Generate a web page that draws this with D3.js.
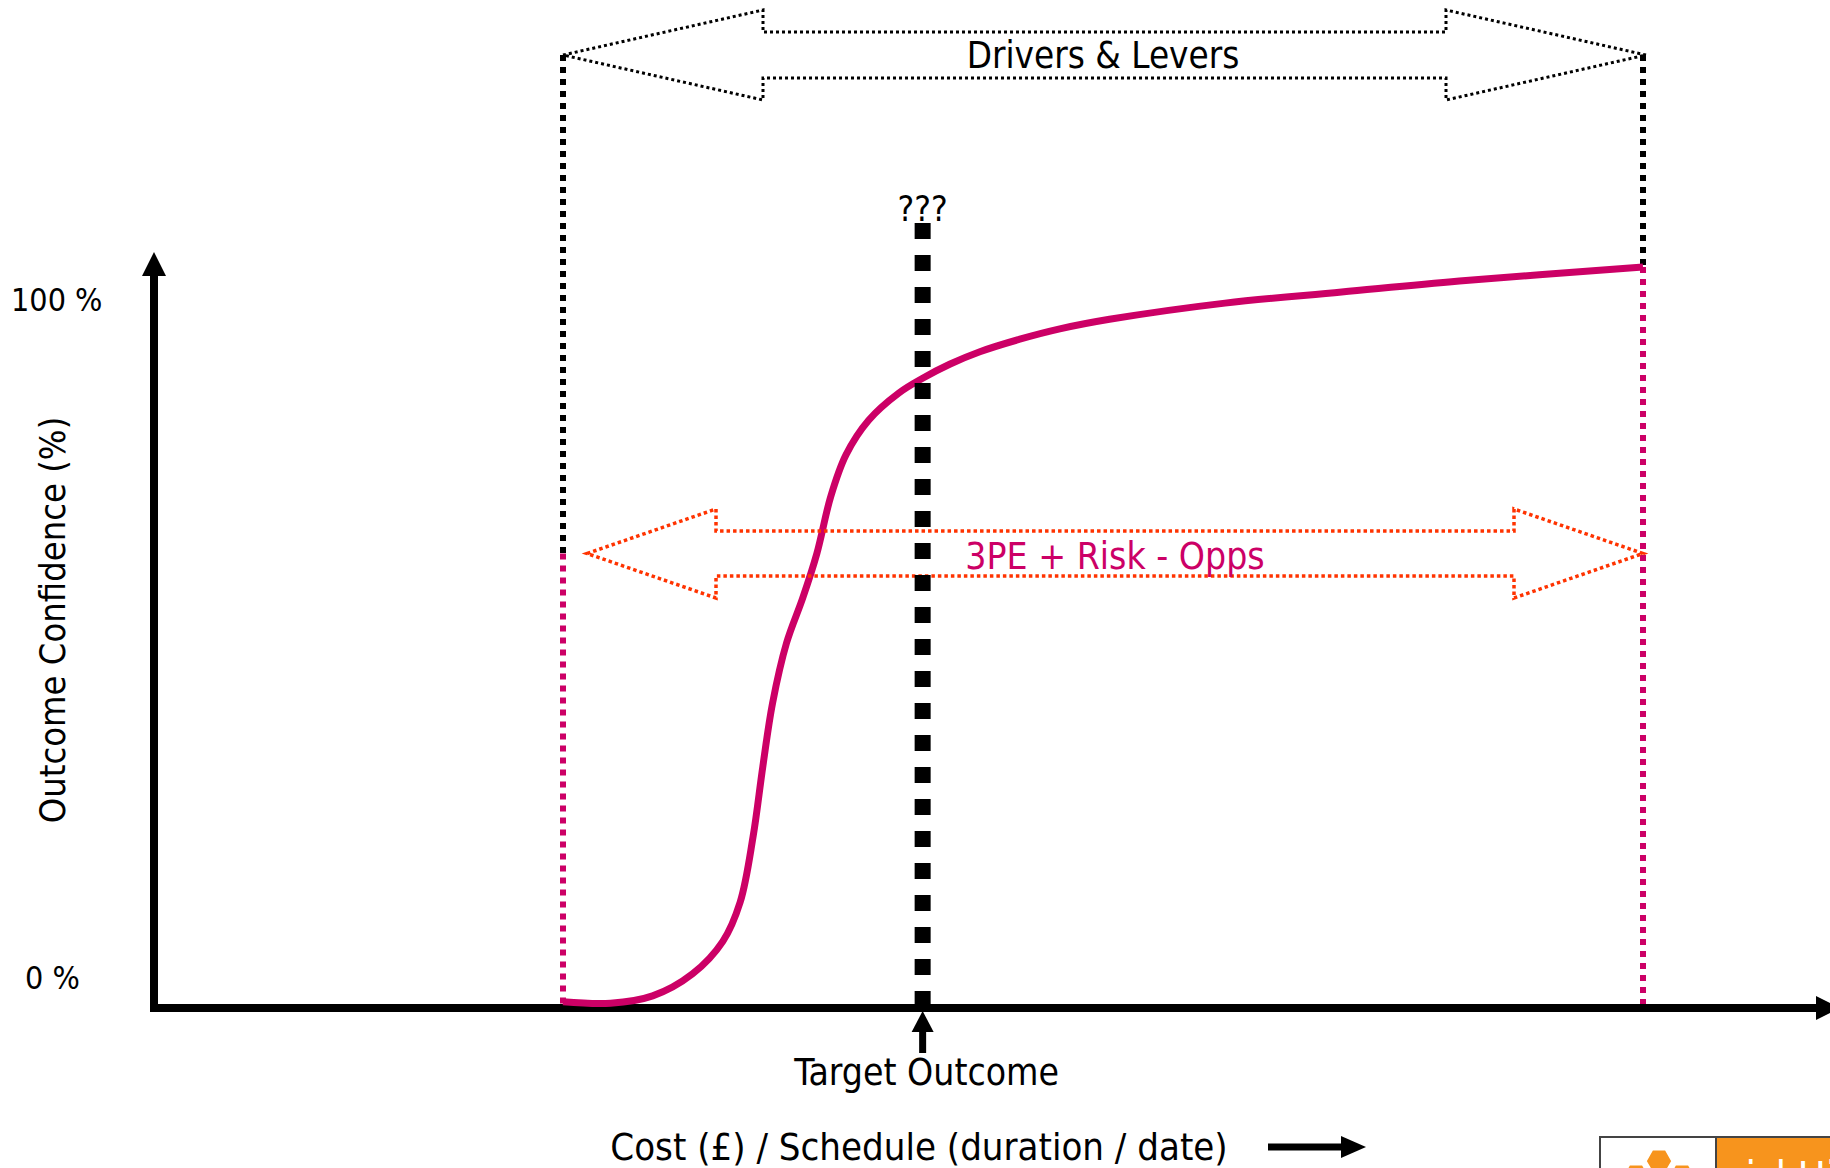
<!DOCTYPE html>
<html>
<head>
<meta charset="utf-8">
<script src="https://cdn.jsdelivr.net/npm/d3@7"></script>
<style>
  html, body { margin: 0; padding: 0; background: #fff; overflow: hidden; }
  svg text { font-family: "DejaVu Sans Condensed", "DejaVu Sans", sans-serif; font-stretch: condensed; }
</style>
</head>
<body>
<svg id="chart" width="1830" height="1168"></svg>
<script>
// Outcome S-curve: position within the estimate range (0 = lowest, 100 = highest) vs confidence %
const costPosition = [0, 4.4, 8.3, 12.0, 14.8, 16.4, 17.6, 18.5, 19.4, 20.7, 22.2, 23.5, 24.8, 26.2, 28.3, 31.1, 33.3, 35.8, 38.6, 42.3, 46.0, 50.6, 61.3, 72.1, 83.0, 100];
const confidence   = [0.3, 0.1, 1.1, 4.1, 8.5, 13.8, 22.7, 32.2, 40.8, 49.0, 55.1, 61.1, 68.9, 74.5, 79.2, 82.9, 84.9, 86.8, 88.5, 90.2, 91.6, 92.9, 95.1, 96.6, 98.1, 100];

// Range bounds of the estimate and the target outcome
const rangeBounds = [0, 100];
const targetOutcome = 33.3;

// Y tick labels
const yTickValues = [0, 100];
const yTickLabels = ["0 %", "100 %"];

// Annotation texts
const driversLabel = "Drivers & Levers";
const rangeLabel = "3PE + Risk - Opps";
const targetLabel = "Target Outcome";
const unknownLabel = "???";
const xTitle = "Cost (£) / Schedule (duration / date)";
const yTitle = "Outcome Confidence (%)";

const MAGENTA = "#CC0066";
const ORANGE_RED = "#FF3300";
const LOGO_ORANGE = "#F7941D";

const svg = d3.select("#chart");

const x = d3.scaleLinear().domain([0, 100]).range([563, 1643]);
const y = d3.scaleLinear().domain([0, 100]).range([1004, 267]);

const origin = { x: 154, y: 1008 };

// ---- axes frame ----
const axes = svg.append("g");
axes.append("line")
  .attr("x1", origin.x).attr("y1", origin.y + 4)
  .attr("x2", origin.x).attr("y2", 272)
  .attr("stroke", "#000").attr("stroke-width", 8);
axes.append("path")
  .attr("d", `M${origin.x - 12},276 L${origin.x},252 L${origin.x + 12},276 Z`)
  .attr("fill", "#000");
axes.append("line")
  .attr("x1", origin.x - 4).attr("y1", origin.y)
  .attr("x2", 1820).attr("y2", origin.y)
  .attr("stroke", "#000").attr("stroke-width", 8);
axes.append("path")
  .attr("d", `M1816,${origin.y - 12} L1840,${origin.y} L1816,${origin.y + 12} Z`)
  .attr("fill", "#000");

// ---- y tick labels ----
const tickOffsets = [-26, 33];
svg.append("g").selectAll("text")
  .data(yTickValues)
  .join("text")
  .attr("x", (d, i) => i === 0 ? 25 : 11)
  .attr("y", (d, i) => y(d) + tickOffsets[i])
  .attr("dominant-baseline", "central")
  .attr("font-size", 32)
  .attr("fill", "#000")
  .text((d, i) => yTickLabels[i]);

// ---- axis titles ----
svg.append("text")
  .attr("transform", "translate(52,620) rotate(-90)")
  .attr("text-anchor", "middle")
  .attr("dominant-baseline", "central")
  .attr("font-size", 36)
  .text(yTitle);

svg.append("text")
  .attr("x", 919).attr("y", 1147)
  .attr("text-anchor", "middle")
  .attr("dominant-baseline", "central")
  .attr("font-size", 38)
  .text(xTitle);

// small arrow after the x title
svg.append("line")
  .attr("x1", 1268).attr("y1", 1147).attr("x2", 1345).attr("y2", 1147)
  .attr("stroke", "#000").attr("stroke-width", 7);
svg.append("path")
  .attr("d", "M1341,1136 L1366,1147 L1341,1158 Z")
  .attr("fill", "#000");

// ---- range bound dotted lines (black above, magenta below) ----
const driversY = 55;
const rangeY = 553.5;
const bounds = svg.append("g");
rangeBounds.forEach((b, i) => {
  const bx = x(b);
  const splitY = i === 0 ? rangeY : y(confidence[confidence.length - 1]);
  bounds.append("line")
    .attr("x1", bx).attr("x2", bx)
    .attr("y1", driversY).attr("y2", splitY)
    .attr("stroke", "#000").attr("stroke-width", 6)
    .attr("stroke-dasharray", "6,6");
  bounds.append("line")
    .attr("x1", bx).attr("x2", bx)
    .attr("y1", splitY).attr("y2", y(0))
    .attr("stroke", MAGENTA).attr("stroke-width", 6)
    .attr("stroke-dasharray", "6,6");
});

// ---- double-headed block arrow outline ----
function blockArrow(x0, x1, cy, head, halfHead, halfShaft) {
  return `M${x0},${cy} L${x0 + head},${cy - halfHead} L${x0 + head},${cy - halfShaft} ` +
         `L${x1 - head},${cy - halfShaft} L${x1 - head},${cy - halfHead} L${x1},${cy} ` +
         `L${x1 - head},${cy + halfHead} L${x1 - head},${cy + halfShaft} ` +
         `L${x0 + head},${cy + halfShaft} L${x0 + head},${cy + halfHead} Z`;
}

// Drivers & Levers arrow
svg.append("path")
  .attr("d", blockArrow(x(rangeBounds[0]), x(rangeBounds[1]) + 3, driversY, 200, 45, 23))
  .attr("fill", "none")
  .attr("stroke", "#000").attr("stroke-width", 3)
  .attr("stroke-dasharray", "3,3");
svg.append("text")
  .attr("x", (x(rangeBounds[0]) + x(rangeBounds[1])) / 2).attr("y", driversY)
  .attr("text-anchor", "middle")
  .attr("dominant-baseline", "central")
  .attr("font-size", 36.5)
  .text(driversLabel);

// ---- S-curve ----
const curvePoints = costPosition.map((c, i) => [c, confidence[i]]);
svg.append("path")
  .datum(curvePoints)
  .attr("d", d3.line().x(d => x(d[0])).y(d => y(d[1])).curve(d3.curveCatmullRom.alpha(0.5)))
  .attr("fill", "none")
  .attr("stroke", MAGENTA)
  .attr("stroke-width", 7)
  .attr("stroke-linecap", "butt");

// ---- 3PE + Risk - Opps arrow ----
svg.append("path")
  .attr("d", blockArrow(x(rangeBounds[0]) + 24, x(rangeBounds[1]), rangeY, 129, 44.5, 22.5))
  .attr("fill", "none")
  .attr("stroke", ORANGE_RED).attr("stroke-width", 3.5)
  .attr("stroke-dasharray", "3.5,3");
svg.append("text")
  .attr("x", (x(rangeBounds[0]) + 24 + x(rangeBounds[1])) / 2).attr("y", rangeY + 3)
  .attr("text-anchor", "middle")
  .attr("dominant-baseline", "central")
  .attr("font-size", 37)
  .attr("fill", MAGENTA)
  .text(rangeLabel);

// ---- target outcome dashed line ----
const tx = x(targetOutcome);
svg.append("line")
  .attr("x1", tx).attr("x2", tx)
  .attr("y1", 223).attr("y2", origin.y)
  .attr("stroke", "#000").attr("stroke-width", 16)
  .attr("stroke-dasharray", "16,16");
svg.append("text")
  .attr("x", tx).attr("y", 221)
  .attr("text-anchor", "middle")
  .attr("font-size", 35)
  .text(unknownLabel);

// target arrow below the axis
svg.append("line")
  .attr("x1", tx).attr("x2", tx).attr("y1", 1028).attr("y2", 1053)
  .attr("stroke", "#000").attr("stroke-width", 7);
svg.append("path")
  .attr("d", `M${tx - 11},1032 L${tx},1011 L${tx + 11},1032 Z`)
  .attr("fill", "#000");
svg.append("text")
  .attr("x", tx + 4).attr("y", 1072)
  .attr("text-anchor", "middle")
  .attr("dominant-baseline", "central")
  .attr("font-size", 37)
  .text(targetLabel);

// ---- corner logo ----
const logo = svg.append("g");
logo.append("rect")
  .attr("x", 1600).attr("y", 1137).attr("width", 250).attr("height", 60)
  .attr("fill", LOGO_ORANGE).attr("stroke", "#444").attr("stroke-width", 2);
logo.append("rect")
  .attr("x", 1600).attr("y", 1137).attr("width", 116).attr("height", 60)
  .attr("fill", "#fff").attr("stroke", "#444").attr("stroke-width", 2);
const hex = r => d3.range(6).map(k => [r * Math.cos(k * Math.PI / 3), r * Math.sin(k * Math.PI / 3)]);
[[1659, 1161], [1636, 1176], [1682, 1176]].forEach(([hx, hy]) => {
  logo.append("polygon")
    .attr("points", hex(13).map(p => [p[0] + hx, p[1] + hy].join(",")).join(" "))
    .attr("fill", LOGO_ORANGE).attr("stroke", "#fff").attr("stroke-width", 1.5);
});
logo.append("text")
  .attr("x", 1730).attr("y", 1192)
  .attr("font-size", 42)
  .attr("fill", "#fff")
  .text("riskHive");
</script>
</body>
</html>
